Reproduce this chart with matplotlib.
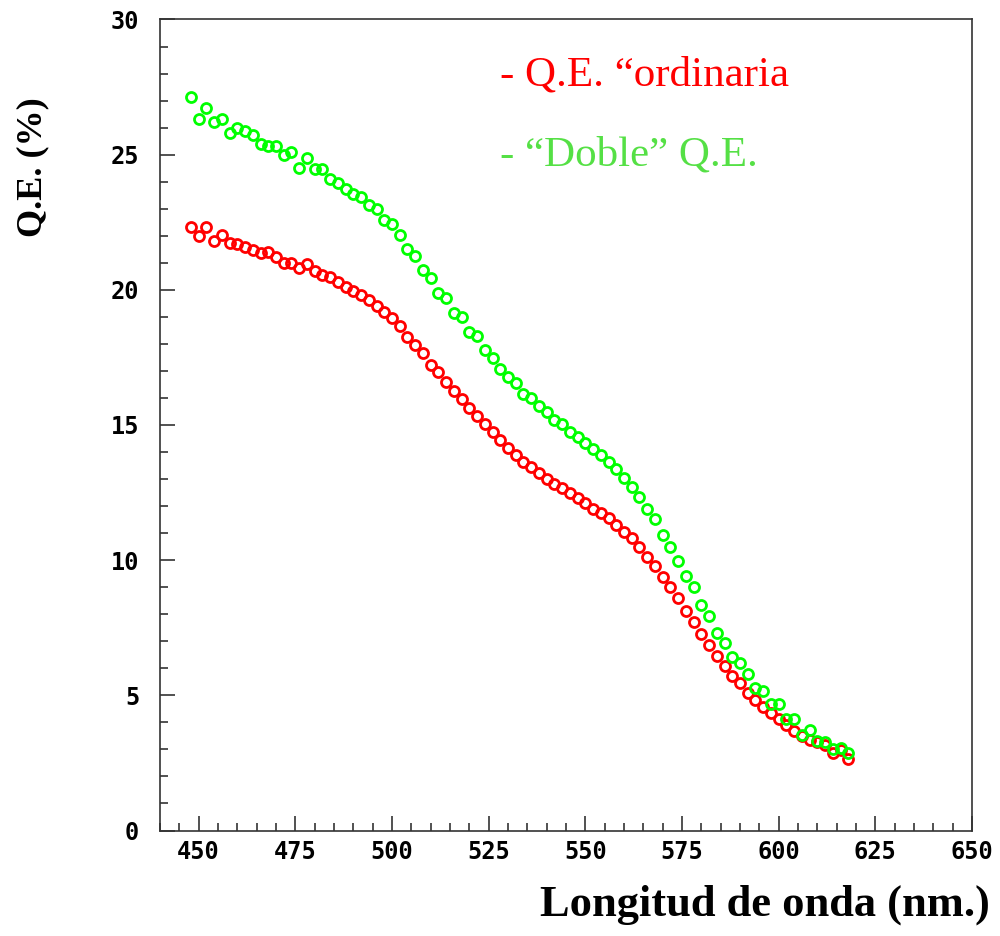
import numpy as np
import matplotlib
matplotlib.use("Agg")
import matplotlib.pyplot as plt
from matplotlib.ticker import MultipleLocator

# wavelength (nm), one point every 2 nm
wavelength = np.arange(448, 620, 2)

# Q.E. "ordinaria" (red)
qe_ordinaria = [
    22.34, 21.99, 22.34, 21.82, 22.03, 21.72, 21.70, 21.60, 21.48, 21.35,
    21.39, 21.23, 20.98, 21.01, 20.82, 20.96, 20.71, 20.55, 20.49, 20.30,
    20.10, 19.96, 19.81, 19.63, 19.40, 19.19, 18.95, 18.66, 18.27, 17.96,
    17.65, 17.22, 16.97, 16.60, 16.27, 15.96, 15.62, 15.33, 15.05, 14.75,
    14.45, 14.14, 13.89, 13.64, 13.46, 13.21, 12.99, 12.82, 12.66, 12.47,
    12.29, 12.13, 11.88, 11.74, 11.55, 11.30, 11.05, 10.81, 10.47, 10.13,
    9.80, 9.39, 9.00, 8.59, 8.12, 7.70, 7.27, 6.86, 6.46, 6.09,
    5.73, 5.45, 5.10, 4.83, 4.56, 4.36, 4.11, 3.90, 3.69, 3.50,
    3.35, 3.29, 3.16, 2.88, 2.98, 2.63,
]

# "Doble" Q.E. (green)
qe_doble = [
    27.15, 26.32, 26.72, 26.19, 26.33, 25.79, 26.00, 25.89, 25.73, 25.40,
    25.32, 25.32, 24.99, 25.11, 24.52, 24.87, 24.46, 24.46, 24.10, 23.94,
    23.74, 23.55, 23.43, 23.14, 22.98, 22.59, 22.43, 22.03, 21.50, 21.25,
    20.74, 20.45, 19.90, 19.69, 19.16, 18.99, 18.45, 18.29, 17.78, 17.47,
    17.07, 16.79, 16.54, 16.15, 15.99, 15.70, 15.49, 15.19, 15.04, 14.75,
    14.57, 14.32, 14.10, 13.89, 13.64, 13.37, 13.03, 12.72, 12.32, 11.88,
    11.53, 10.93, 10.50, 9.98, 9.42, 9.00, 8.34, 7.95, 7.32, 6.95,
    6.41, 6.19, 5.79, 5.26, 5.17, 4.68, 4.68, 4.11, 4.11, 3.53,
    3.72, 3.32, 3.29, 3.00, 3.04, 2.86,
]

legend_labels = ["- Q.E. \u201cordinaria", "- \u201cDoble\u201d Q.E."]

fig = plt.figure(figsize=(10, 9.36), dpi=100)
ax = fig.add_axes([0.16, 0.1127, 0.812, 0.8665])

ax.plot(wavelength, qe_ordinaria, linestyle="none", marker="o", markersize=7.2,
        markerfacecolor="none", markeredgecolor="#ff0000", markeredgewidth=2.0)
ax.plot(wavelength, qe_doble, linestyle="none", marker="o", markersize=7.2,
        markerfacecolor="none", markeredgecolor="#00ff00", markeredgewidth=2.0)

ax.set_xlim(440, 650)
ax.set_ylim(0, 30)
ax.xaxis.set_major_locator(MultipleLocator(25))
ax.xaxis.set_minor_locator(MultipleLocator(5))
ax.yaxis.set_major_locator(MultipleLocator(5))
ax.yaxis.set_minor_locator(MultipleLocator(1))
ax.tick_params(which="both", direction="in", top=False, right=False,
               color="#333333", width=1.2)
ax.tick_params(which="major", length=11)
ax.tick_params(which="minor", length=5.5)
ax.tick_params(axis="x", pad=7)
ax.tick_params(axis="y", pad=15)
for lab in ax.get_xticklabels() + ax.get_yticklabels():
    lab.set_family("DejaVu Sans Mono")
    lab.set_fontsize(17)
    lab.set_weight("bold")
for s in ax.spines.values():
    s.set_color("#333333")
    s.set_linewidth(1.2)

fig.text(0.033, 1 - 167 / 936, "Q.E. (%)", rotation=90, ha="center", va="center",
         family="Liberation Serif", weight="bold", fontsize=26)
fig.text(0.765, 1 - 905 / 936, "Longitud de onda (nm.)", ha="center", va="center",
         family="Liberation Serif", weight="bold", fontsize=32)

fig.text(0.50, 1 - 75 / 936, legend_labels[0], ha="left", va="center",
         family="Liberation Serif", fontsize=31, color="#ff0000")
fig.text(0.50, 1 - 155 / 936, legend_labels[1], ha="left", va="center",
         family="Liberation Serif", fontsize=31, color="#55e045")

fig.savefig("out.png", dpi=100)
